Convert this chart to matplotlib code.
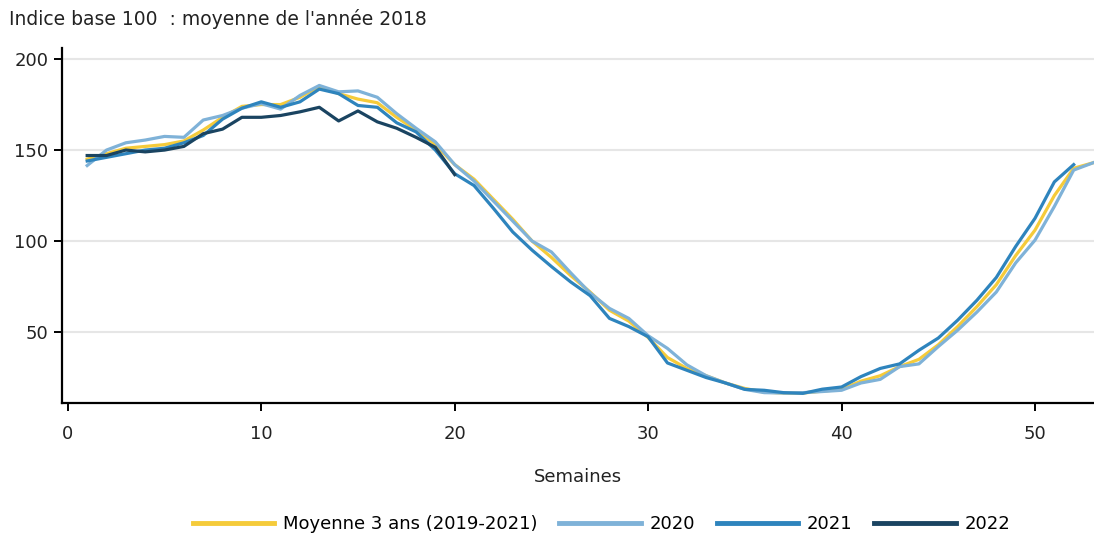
import matplotlib
matplotlib.use("Agg")
import matplotlib.pyplot as plt

weeks_avg = list(range(1, 54))
moyenne = [145, 148, 151, 152, 153, 155, 161, 168, 174, 175, 175, 179, 185, 181, 178,
           176, 168, 161, 153, 142, 134, 123, 112, 100, 91, 81, 72, 62, 56, 47,
           36, 30, 26, 22, 19, 17, 16.5, 16.5, 17.5, 18.5, 23, 26, 31, 35, 43,
           53, 64, 76, 92, 106, 125, 140, 143]

weeks_2020 = list(range(1, 54))
y2020 = [141.5, 150, 154, 155.5, 157.5, 157, 166.5, 169, 173, 175.5, 172.5, 180, 185.5, 182, 182.5,
         179, 170, 162, 154.5, 142, 133, 122, 111, 100, 94, 82.5, 71.5, 63, 57.5, 48,
         41, 32, 26, 22, 18.5, 16.7, 16.5, 16.7, 17.3, 18, 22, 24, 31, 32.5, 42,
         51, 61, 72, 88, 100.5, 119, 139, 143]

weeks_2021 = list(range(1, 53))
y2021 = [144, 146, 148, 150, 151, 154, 158, 167, 173, 176.5, 173.5, 176.5, 183.5, 181, 174.5,
         173.5, 165, 160, 150, 137, 130.5, 118, 105, 95, 86, 77.5, 70, 57.5, 53, 47.4,
         33, 29, 25, 22, 18.5, 18, 16.7, 16.3, 18.6, 19.8, 25.5, 30, 32.5, 40, 46.7,
         56.5, 67.5, 80, 97, 112.5, 132.5, 142]

weeks_2022 = list(range(1, 21))
y2022 = [147, 147, 150, 149, 150, 152, 159, 161.5, 168, 168, 169, 171, 173.5, 166, 171.5,
         165.5, 162, 157, 151.5, 136.5]

labels = ["Moyenne 3 ans (2019-2021)", "2020", "2021", "2022"]
colors = ["#f5cb3a", "#7fb2d8", "#2e84bd", "#1a4461"]

plt.rcParams["font.family"] = ["DejaVu Sans"]

fig = plt.figure(figsize=(10.94, 5.35), dpi=100)
ax = fig.add_axes([0.0567, 0.2467, 0.9433, 0.6633])

lw = 2.3
ax.plot(weeks_avg, moyenne, color=colors[0], lw=lw, label=labels[0], zorder=3)
ax.plot(weeks_2020, y2020, color=colors[1], lw=lw, label=labels[1], zorder=4)
ax.plot(weeks_2021, y2021, color=colors[2], lw=lw, label=labels[2], zorder=5)
ax.plot(weeks_2022, y2022, color=colors[3], lw=lw, label=labels[3], zorder=6)

ax.set_xlim(-0.3, 53.05)
ax.set_ylim(11, 206)
ax.set_xticks([0, 10, 20, 30, 40, 50])
ax.set_yticks([50, 100, 150, 200])
ax.grid(axis="y", color="#e6e6e6", lw=1.5, zorder=0)
ax.set_axisbelow(True)
for s in ["top", "right"]:
    ax.spines[s].set_visible(False)
for s in ["left", "bottom"]:
    ax.spines[s].set_linewidth(1.6)
    ax.spines[s].set_color("black")
ax.tick_params(axis="both", direction="out", length=6, width=1.4, labelsize=13, colors="black")
ax.tick_params(axis="x", pad=10)
ax.tick_params(axis="y", pad=4)
for t in ax.get_xticklabels() + ax.get_yticklabels():
    t.set_color("#222222")

ax.set_xlabel("Semaines", fontsize=13, labelpad=18, color="#222222")
fig.text(0.008, 0.965, "Indice base 100  : moyenne de l'année 2018", fontsize=13.5,
         color="#222222", ha="left", va="center")

leg = fig.legend(loc="center", bbox_to_anchor=(0.55, 0.02), ncol=4, frameon=False,
                 fontsize=13, handlelength=4.5, handletextpad=0.5, columnspacing=1.2)
for h in leg.get_lines():
    h.set_linewidth(3.5)

fig.savefig("out.png", dpi=100)
